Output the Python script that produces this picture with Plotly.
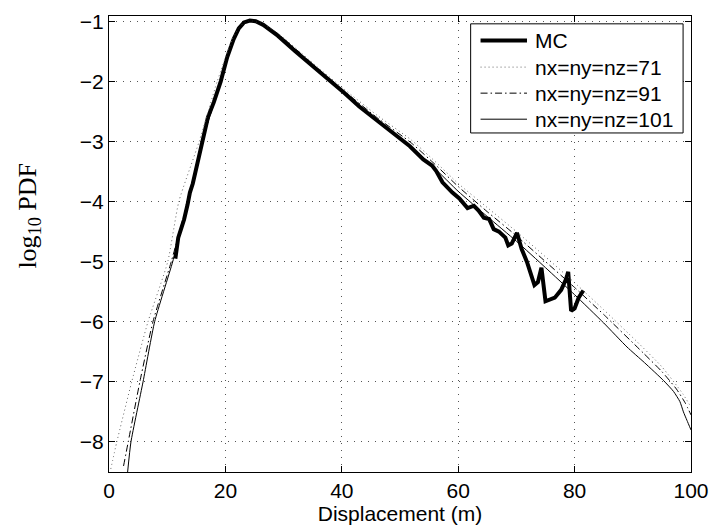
import plotly.graph_objects as go

# Monte Carlo estimate of the displacement PDF (log10 scale)
mc_x = [11.4, 11.9, 12.4, 12.9, 13.5, 13.9, 14.4, 15.0, 15.5, 16.0, 17.0, 18.0, 19.2,
        20.3, 21.4, 22.3, 23.2, 24.2, 25.2, 26.5, 29.0, 32.0, 35.8, 38.0, 40.4, 43.0,
        46.0, 48.5, 51.7, 54.0, 55.5, 56.2, 57.3, 59.0, 60.2, 61.6, 62.7, 63.5, 64.4,
        65.3, 66.1, 67.0, 68.1, 68.6, 69.2, 70.1, 70.9, 71.8, 73.1, 73.7, 74.3, 75.0,
        76.6, 77.7, 78.5, 78.9, 79.4, 80.0, 80.7, 81.5]
mc_y = [-4.95, -4.60, -4.45, -4.30, -4.05, -3.85, -3.70, -3.45, -3.25, -3.00, -2.60,
        -2.35, -2.00, -1.60, -1.30, -1.12, -1.02, -0.99, -1.00, -1.06, -1.24, -1.50,
        -1.81, -2.00, -2.19, -2.42, -2.65, -2.85, -3.08, -3.30, -3.40, -3.49, -3.68,
        -3.85, -3.95, -4.11, -4.07, -4.15, -4.27, -4.29, -4.46, -4.50, -4.60, -4.73,
        -4.70, -4.52, -4.79, -5.00, -5.39, -5.34, -5.10, -5.66, -5.60, -5.47, -5.30,
        -5.17, -5.82, -5.78, -5.60, -5.48]

# Grid solutions, nx=ny=nz=71
g71_x = [0.3, 1.34, 3.9, 6.7, 10.1, 12.0, 15.5, 18.6, 21.2, 23.0, 24.2, 26.0, 29.0,
         35.8, 40.4, 46.0, 52.0, 56.0, 60.0, 65.0, 70.0, 75.0, 80.0, 85.0, 90.7, 95.0,
         98.6, 100.0]
g71_y = [-8.45, -8.00, -7.00, -6.00, -5.00, -4.00, -3.00, -2.00, -1.30, -1.04, -0.99,
         -1.03, -1.20, -1.76, -2.13, -2.56, -2.98, -3.33, -3.70, -4.10, -4.50, -4.92,
         -5.35, -5.80, -6.33, -6.75, -7.20, -7.42]

# Grid solutions, nx=ny=nz=91
g91_x = [2.5, 3.3, 5.3, 7.55, 10.7, 13.5, 16.0, 19.2, 21.4, 23.0, 24.2, 26.0, 29.0,
         35.8, 40.4, 46.0, 52.0, 56.0, 60.0, 65.0, 70.0, 75.0, 80.0, 85.0, 91.8, 95.0,
         97.5, 99.0, 100.0]
g91_y = [-8.40, -8.00, -7.00, -6.00, -5.00, -4.00, -3.00, -2.00, -1.30, -1.04, -0.99,
         -1.03, -1.21, -1.78, -2.16, -2.60, -3.03, -3.38, -3.75, -4.17, -4.57, -5.00,
         -5.43, -5.88, -6.52, -6.83, -7.12, -7.35, -7.55]

# Grid solutions, nx=ny=nz=101
g101_x = [3.2, 3.77, 5.85, 7.84, 10.95, 13.5, 16.0, 19.2, 21.4, 23.0, 24.2, 26.0, 29.0,
          35.8, 40.4, 46.0, 51.7, 56.0, 60.0, 65.0, 70.0, 75.0, 80.0, 85.0, 89.0, 92.0,
          95.3, 97.0, 98.1, 98.7, 99.3, 100.0]
g101_y = [-8.50, -8.00, -7.00, -6.00, -5.00, -4.05, -3.00, -2.00, -1.30, -1.04, -0.99,
          -1.03, -1.22, -1.79, -2.18, -2.64, -3.07, -3.45, -3.83, -4.25, -4.66, -5.10,
          -5.55, -6.02, -6.42, -6.68, -6.98, -7.16, -7.33, -7.50, -7.64, -7.80]

series_names = ["MC", "nx=ny=nz=71", "nx=ny=nz=91", "nx=ny=nz=101"]

x_ticks = [0, 20, 40, 60, 80, 100]
y_ticks = [-8, -7, -6, -5, -4, -3, -2, -1]

FONT = "Liberation Sans, Arial, sans-serif"

line_styles = [
    dict(color="black", width=4),
    dict(color="#666666", width=1, dash="1px,3px"),
    dict(color="black", width=1, dash="7px,3px,1.5px,3px"),
    dict(color="black", width=1),
]
series_x = [mc_x, g71_x, g91_x, g101_x]
series_y = [mc_y, g71_y, g91_y, g101_y]

fig = go.Figure()
for i, (xs, ys, name, style) in enumerate(zip(series_x, series_y, series_names, line_styles)):
    trace_line = dict(style)
    if i > 0:
        # the grid solutions are smooth curves
        trace_line.update(shape="spline", smoothing=0.5)
    fig.add_trace(go.Scatter(x=xs, y=ys, mode="lines", name=name, line=trace_line,
                             showlegend=False))

axis_common = dict(
    showline=True, linecolor="black", linewidth=1, mirror="ticks",
    ticks="inside", ticklen=6, tickcolor="black", tickwidth=1,
    showgrid=True, gridcolor="#555555", gridwidth=1, griddash="1px,6px",
    zeroline=False, tickfont=dict(family=FONT, size=21, color="black"),
)

fig.update_xaxes(range=[0, 100], tickvals=x_ticks, **axis_common,
                 title=dict(text="Displacement (m)", font=dict(family=FONT, size=21, color="black"),
                            standoff=4))
fig.update_yaxes(range=[-8.5, -0.913], tickvals=y_ticks, **axis_common)

fig.add_annotation(text="log<sub>10</sub> PDF", textangle=-90, showarrow=False,
                   xref="paper", yref="paper", x=-0.139, y=0.5625,
                   xanchor="center", yanchor="middle",
                   font=dict(family="Liberation Serif, Times New Roman, serif", size=26, color="black"))

# Legend box in the upper right corner, one row per series
box_x0, box_x1 = 0.6214, 0.9864
box_y0, box_y1 = 0.7435, 0.9828
sample_x0, sample_x1 = 0.6384, 0.7182
label_x = 0.7284
row_y = [0.9461, 0.8879, 0.8308, 0.7737]

shapes = [dict(type="rect", xref="paper", yref="paper", x0=box_x0, x1=box_x1,
               y0=box_y0, y1=box_y1, fillcolor="white",
               line=dict(color="black", width=1), layer="above")]
for name, style, ry in zip(series_names, line_styles, row_y):
    shapes.append(dict(type="line", xref="paper", yref="paper", x0=sample_x0, x1=sample_x1,
                       y0=ry, y1=ry, line=style, layer="above"))
    fig.add_annotation(text=name, showarrow=False, xref="paper", yref="paper",
                       x=label_x, y=ry, xanchor="left", yanchor="middle",
                       font=dict(family=FONT, size=21, color="black"))

fig.update_layout(
    width=719, height=531,
    margin=dict(l=109, r=21, t=10, b=57),
    paper_bgcolor="white", plot_bgcolor="white",
    showlegend=False,
    shapes=shapes,
)

fig.write_html("out.html")
